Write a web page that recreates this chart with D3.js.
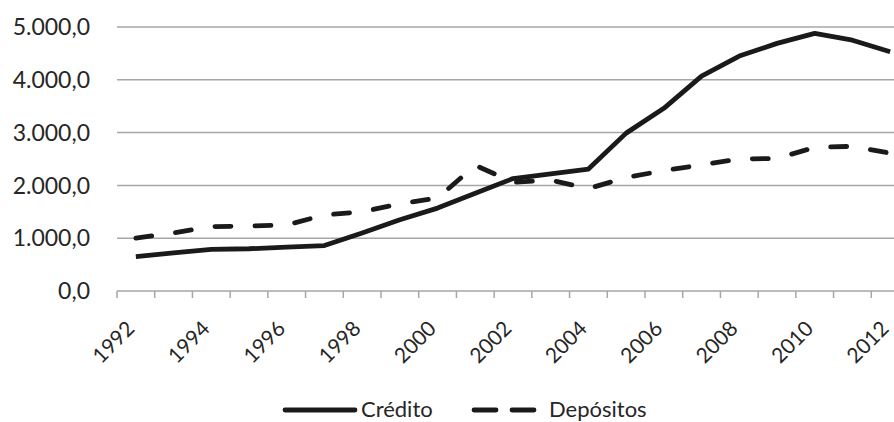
<!DOCTYPE html>
<html>
<head>
<meta charset="utf-8">
<script src="https://cdn.jsdelivr.net/npm/d3@7"></script>
<style>
  html, body { margin: 0; padding: 0; background: #fff; }
  svg { display: block; }
  text { font-family: Lato, "Open Sans", sans-serif; fill: #262626; }
</style>
</head>
<body>
<svg id="chart" width="894" height="422"></svg>
<script>
// Annual series, 1992–2012
const years = [1992, 1993, 1994, 1995, 1996, 1997, 1998, 1999, 2000, 2001, 2002,
               2003, 2004, 2005, 2006, 2007, 2008, 2009, 2010, 2011, 2012];
const credito = [650, 720, 790, 800, 830, 860, 1100, 1350, 1570, 1850, 2130,
                 2220, 2310, 2990, 3460, 4070, 4450, 4690, 4880, 4750, 4530];
const depositos = [1000, 1100, 1220, 1230, 1250, 1440, 1500, 1650, 1760, 2380, 2060,
                   2100, 1940, 2150, 2280, 2390, 2500, 2510, 2720, 2740, 2610];
const yTicks = [0, 1000, 2000, 3000, 4000, 5000];
const seriesNames = ["Crédito", "Depósitos"];

const svg = d3.select("#chart");
const plot = { left: 117, right: 909, top: 27, bottom: 291 };

const x = d3.scaleBand().domain(years).range([plot.left, plot.right]);
const y = d3.scaleLinear().domain([0, 5000]).range([plot.bottom, plot.top]);

const fmt = v => d3.format(",.1f")(v).replace(/,/g, "#").replace(".", ",").replace(/#/g, ".");

// horizontal gridlines
svg.append("g")
  .selectAll("line")
  .data(yTicks.filter(d => d > 0))
  .join("line")
  .attr("x1", plot.left).attr("x2", plot.right)
  .attr("y1", d => y(d)).attr("y2", d => y(d))
  .attr("stroke", "#a6a6a6").attr("stroke-width", 1.5);

// y labels
svg.append("g")
  .selectAll("text")
  .data(yTicks)
  .join("text")
  .attr("x", 90)
  .attr("y", d => y(d))
  .attr("dy", "0.36em")
  .attr("text-anchor", "end")
  .style("font-size", "23px")
  .text(fmt);

// category axis with tick marks on band edges
const axisG = svg.append("g");
axisG.append("line")
  .attr("x1", plot.left).attr("x2", plot.right)
  .attr("y1", plot.bottom).attr("y2", plot.bottom)
  .attr("stroke", "#a6a6a6").attr("stroke-width", 1.5);
const edges = years.map(d => x(d)).concat([plot.right]);
axisG.selectAll("line.tick")
  .data(edges)
  .join("line")
  .attr("class", "tick")
  .attr("x1", d => d).attr("x2", d => d)
  .attr("y1", plot.bottom).attr("y2", plot.bottom + 7)
  .attr("stroke", "#a6a6a6").attr("stroke-width", 1.5);

axisG.selectAll("text")
  .data(years.filter((d, i) => i % 2 === 0))
  .join("text")
  .attr("text-anchor", "end")
  .attr("transform", d => `translate(${x(d) + x.bandwidth() / 2 - 9},${plot.bottom + 30}) rotate(-45)`)
  .attr("dy", "0.6em")
  .style("font-size", "21px")
  .text(d => d);

// series lines
const line = vals => d3.line()
  .x((d, i) => x(years[i]) + x.bandwidth() / 2)
  .y(d => y(d))(vals);

svg.append("path")
  .attr("d", line(depositos))
  .attr("fill", "none")
  .attr("stroke", "#1a1a1a")
  .attr("stroke-width", 4.8)
  .attr("stroke-dasharray", "16,24")
  .attr("stroke-linecap", "round");

svg.append("path")
  .attr("d", line(credito))
  .attr("fill", "none")
  .attr("stroke", "#1a1a1a")
  .attr("stroke-width", 4.8)
  .attr("stroke-linejoin", "round");

// legend
const leg = svg.append("g");
leg.append("line")
  .attr("x1", 285).attr("x2", 355).attr("y1", 410).attr("y2", 410)
  .attr("stroke", "#1a1a1a").attr("stroke-width", 4.8).attr("stroke-linecap", "round");
leg.append("text")
  .attr("x", 361).attr("y", 417)
  .style("font-size", "22px").text(seriesNames[0]);
leg.append("line")
  .attr("x1", 474).attr("x2", 536).attr("y1", 410).attr("y2", 410)
  .attr("stroke", "#1a1a1a").attr("stroke-width", 4.8)
  .attr("stroke-dasharray", "22,16").attr("stroke-linecap", "round");
leg.append("text")
  .attr("x", 549).attr("y", 417)
  .style("font-size", "22px").text(seriesNames[1]);
</script>
</body>
</html>
